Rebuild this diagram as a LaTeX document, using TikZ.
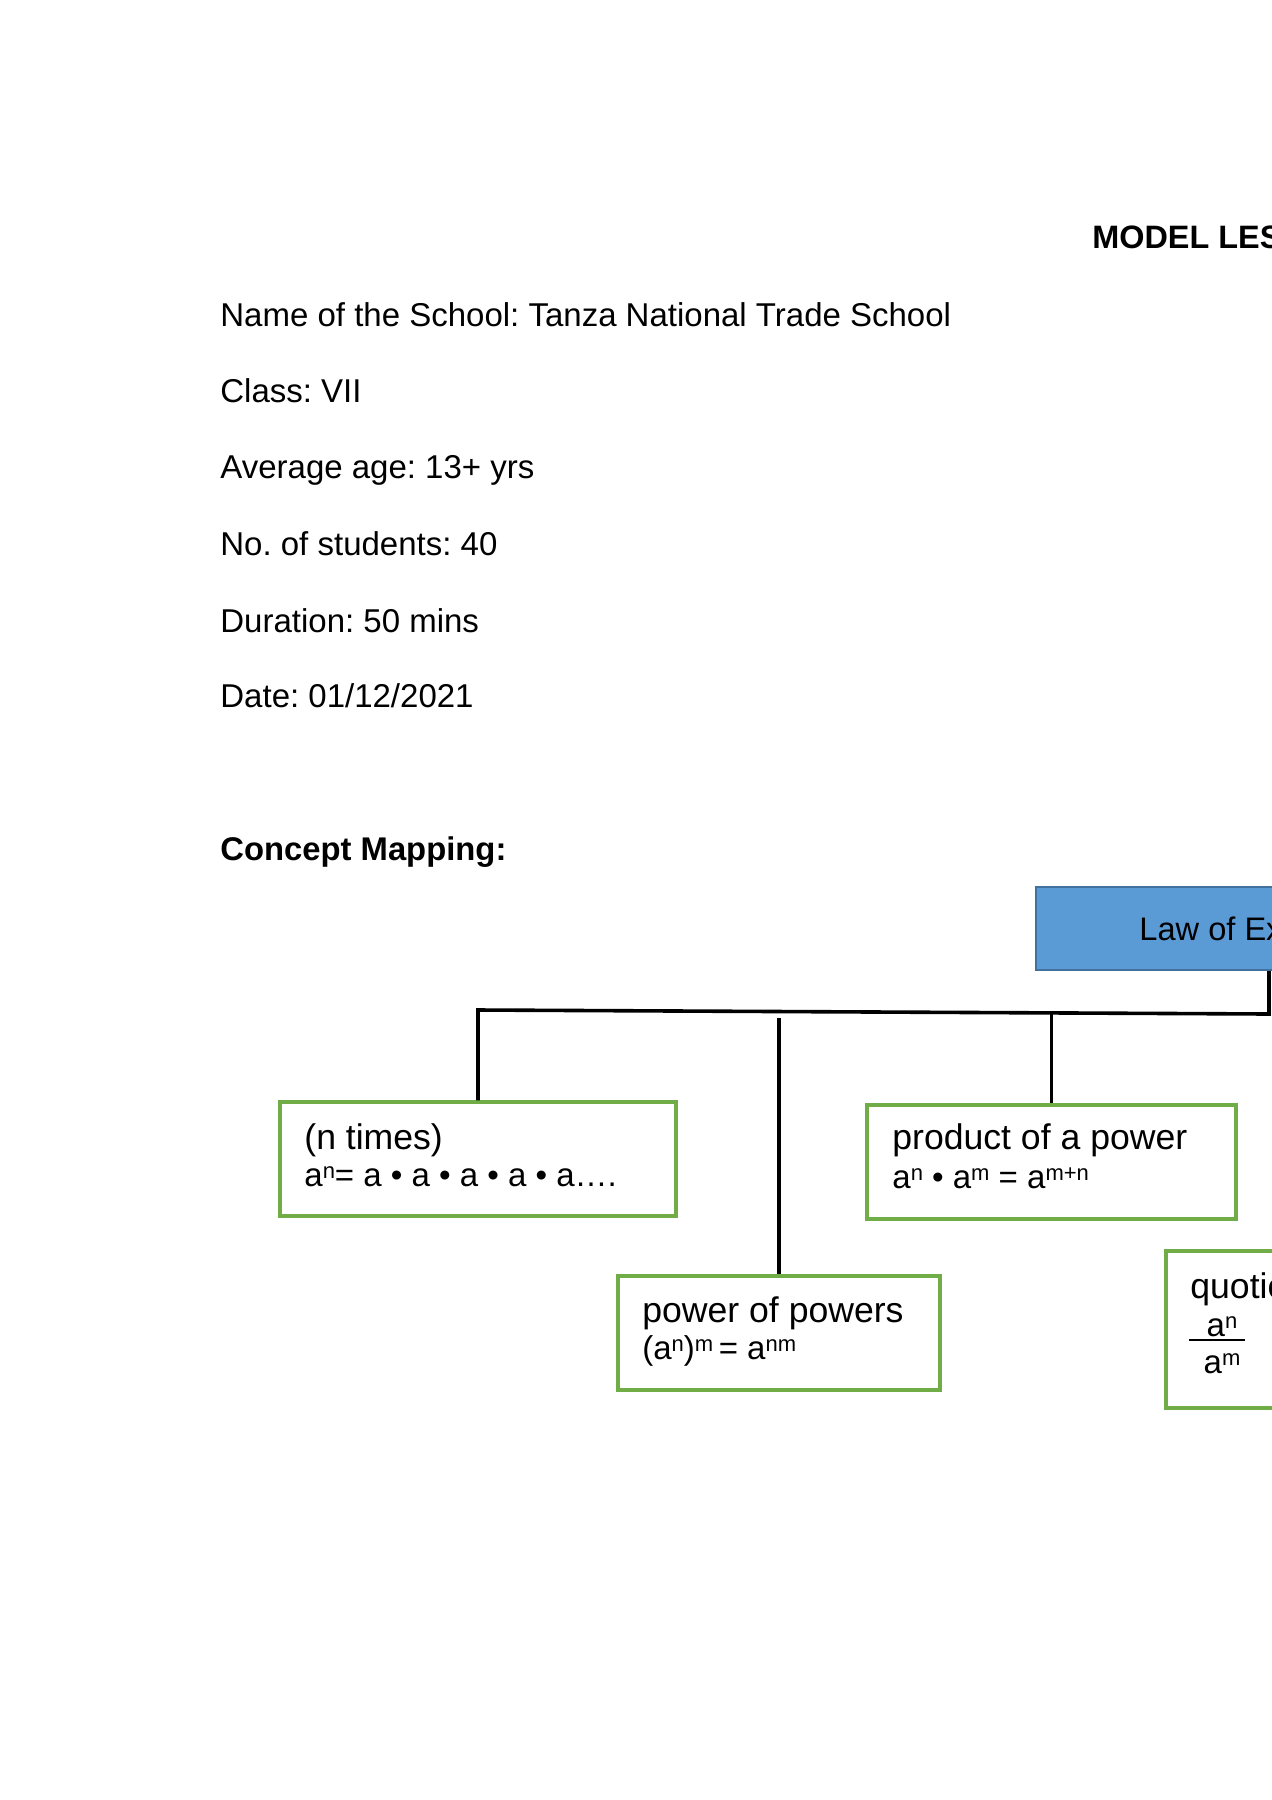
\documentclass[tikz,border=0pt]{standalone}
\usepackage{fontspec}
\setmainfont{Liberation Sans}
\frenchspacing
\definecolor{boxgreen}{HTML}{70AD47}
\definecolor{lawfill}{HTML}{5B9BD5}
\definecolor{lawedge}{HTML}{41719C}
\newcommand\upx[1]{\raisebox{4pt}{\fontsize{11}{11}\selectfont #1}}
\begin{document}
\begin{tikzpicture}[x=0.5pt,y=-0.5pt,
  body/.style={anchor=base west,inner sep=0pt,font=\fontsize{16.5}{19}\selectfont},
  bodybold/.style={body,font=\fontsize{16.4}{19}\selectfont\bfseries},
  lineone/.style={anchor=base west,inner sep=0pt,font=\fontsize{17.8}{20}\selectfont},
  linetwo/.style={anchor=base west,inner sep=0pt,font=\fontsize{16.5}{19}\selectfont},
  fracpart/.style={anchor=base,inner sep=0pt,font=\fontsize{16.5}{19}\selectfont},
  greenbox/.style={draw=boxgreen,line width=1.6pt,fill=white,inner sep=0pt,rectangle},
  lawbox/.style={draw=lawedge,fill=lawfill,line width=1pt,inner sep=0pt,rectangle,
    minimum width=233pt,minimum height=41.5pt},
  conn/.style={draw=black,line width=1.8pt,line join=miter}]
\useasboundingbox (0,0) rectangle (1272,1800);
\clip (0,0) rectangle (1272,1800);

% header
\node[bodybold,font=\fontsize{16.2}{19}\selectfont\bfseries] (title) at (1092,248) {MODEL LESSON PLAN};
\node[body] (school) at (220,326) {Name of the School: Tanza National Trade School};
\node[body] (class) at (220,402) {Class: VII};
\node[body] (age) at (220,478) {Average age: 13+ yrs};
\node[body] (students) at (220,555) {No. of students: 40};
\node[body] (duration) at (220,632) {Duration: 50 mins};
\node[body] (date) at (220,707) {Date: 01/12/2021};
\node[bodybold] (cmap) at (220,860) {Concept Mapping:};

% main box
\node[lawbox] (law) at (1269,928.5) {};
\node[anchor=base,inner sep=0pt,font=\fontsize{16.3}{19}\selectfont] (lawtext) at (1269,940) {Law of Exponents};

% concept boxes
\node[greenbox,minimum width=198pt,minimum height=57pt] (boxA) at (478,1159) {};
\node[greenbox,minimum width=184.5pt,minimum height=57pt] (boxB) at (1051.5,1162) {};
\node[greenbox,minimum width=161pt,minimum height=57pt] (boxC) at (779,1333) {};
\node[greenbox,minimum width=161pt,minimum height=78.5pt] (boxD) at (1327,1329.5) {};

% box texts
\node[lineone] (a1) at (304,1149) {(n times)};
\node[linetwo] (a2) at (304,1186) {a\upx{n}= a • a • a • a • a….};
\node[lineone] (b1) at (892,1149) {product of a power};
\node[linetwo] (b2) at (892,1188) {a\upx{n} • a\upx{m} = a\upx{m+n}};
\node[lineone] (c1) at (642,1322) {power of powers};
\node[linetwo] (c2) at (642,1359) {(a\upx{n})\upx{m}\,= a\upx{nm}};
\node[lineone] (d1) at (1190,1298) {quotient of a power};
\node[fracpart] (dnum) at (1222,1336) {a\upx{n}};
\node[fracpart] (dden) at (1222,1373) {a\upx{m}};
\draw[line width=0.8pt] (1189,1340) -- (1245,1340);

% connectors
\coordinate (hR) at (1269,1014);
\coordinate (hL) at (478,1010);
\coordinate (hB) at (1051.5,1012.5);
\coordinate (mTop) at (779,1018);
\draw[conn] (law.south) -- (hR) -- (hL) -- (boxA.north);
\draw[conn] (hB) -- (boxB.north);
\draw[conn] (mTop) -- (boxC.north);
\end{tikzpicture}
\end{document}
